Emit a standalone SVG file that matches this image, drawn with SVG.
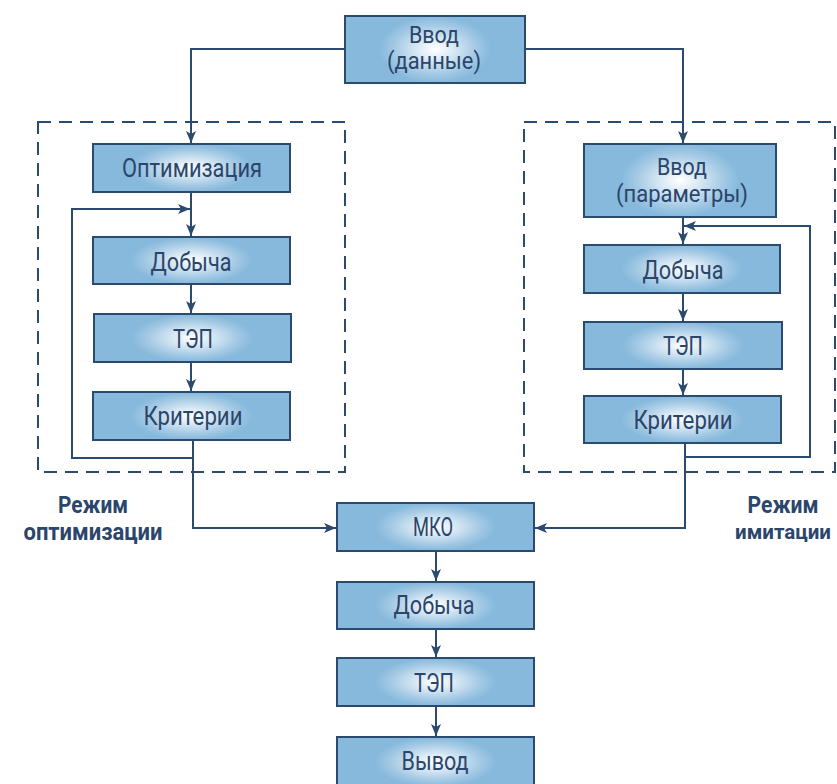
<svg xmlns="http://www.w3.org/2000/svg" width="837" height="784" viewBox="0 0 837 784">
<defs>
<radialGradient id="g" cx="0.5" cy="0.5" r="0.5" gradientUnits="objectBoundingBox" gradientTransform="translate(0.5 0.5) scale(0.62 1) translate(-0.5 -0.5)">
<stop offset="0" stop-color="#ffffff"/>
<stop offset="0.35" stop-color="#d6e7f3"/>
<stop offset="0.75" stop-color="#a2c8e4"/>
<stop offset="1" stop-color="#86b9dc"/>
</radialGradient>
<marker id="ah" viewBox="0 0 12 10" refX="12" refY="5" markerWidth="12" markerHeight="10" markerUnits="userSpaceOnUse" orient="auto">
<path d="M0,0 L12,5 L0,10 L3,5 Z" fill="#2b4a6f"/>
</marker>
<style>
.box{fill:url(#g);stroke:#2b4a6f;stroke-width:2}
.t{font-family:"Roboto",sans-serif;font-size:25px;fill:#2b456b;text-anchor:middle}
.t2{font-family:"Roboto",sans-serif;font-size:23px;fill:#2b456b;text-anchor:middle}
.lbl{font-family:"Roboto",sans-serif;font-size:23px;font-weight:bold;fill:#2b456b;text-anchor:middle}
.c{fill:none;stroke:#2b4a6f;stroke-width:2}
.a{marker-end:url(#ah)}
.dash{fill:none;stroke:#2b4a6f;stroke-width:2;stroke-dasharray:13 8}
</style>
</defs>
<rect width="837" height="784" fill="#ffffff"/>
<g id="groups">
<rect id="opt-frame" class="dash" x="38" y="122" width="307" height="350"/>
<rect id="sim-frame" class="dash" x="524" y="122" width="311" height="350"/>
</g>
<g id="connectors">
<path class="c a" d="M345,49 H191 V143"/>
<path class="c a" d="M525,49 H683 V143"/>
<path class="c a" d="M191,192 V236"/>
<path class="c a" d="M191,284 V313"/>
<path class="c a" d="M191,362 V391"/>
<path class="c a" d="M193,440 V458 H72 V209 H190"/>
<path class="c a" d="M193,458 V528 H336"/>
<path class="c a" d="M683,217 V244"/>
<path class="c a" d="M683,293 V321"/>
<path class="c a" d="M683,369 V395"/>
<path class="c a" d="M685,443 V457 H810 V226 H684"/>
<path class="c a" d="M685,457 V528 H535"/>
<path class="c a" d="M436,551 V581"/>
<path class="c a" d="M436,629 V657"/>
<path class="c a" d="M436,706 V736"/>
</g>
<g id="n-input-data"><rect class="box" x="345" y="16" width="180" height="67"/><text class="t2" x="434" y="43" textLength="50" lengthAdjust="spacingAndGlyphs">Ввод</text><text class="t2" x="434" y="69" textLength="94" lengthAdjust="spacingAndGlyphs">(данные)</text></g>
<g id="n-opt"><rect class="box" x="93" y="144" width="197" height="48"/><text class="t" x="192" y="177" textLength="140" lengthAdjust="spacingAndGlyphs">Оптимизация</text></g>
<g id="n-opt-dob"><rect class="box" x="93" y="237" width="197" height="47"/><text class="t" x="191" y="271" textLength="81" lengthAdjust="spacingAndGlyphs">Добыча</text></g>
<g id="n-opt-tep"><rect class="box" x="94" y="314" width="197" height="48"/><text class="t" x="193" y="348" textLength="40" lengthAdjust="spacingAndGlyphs">ТЭП</text></g>
<g id="n-opt-krit"><rect class="box" x="93" y="392" width="197" height="48"/><text class="t" x="193" y="425" textLength="99" lengthAdjust="spacingAndGlyphs">Критерии</text></g>
<g id="n-input-params"><rect class="box" x="584" y="144" width="192" height="73"/><text class="t2" x="682" y="175" textLength="50" lengthAdjust="spacingAndGlyphs">Ввод</text><text class="t2" x="682" y="202" textLength="132" lengthAdjust="spacingAndGlyphs">(параметры)</text></g>
<g id="n-sim-dob"><rect class="box" x="584" y="245" width="196" height="48"/><text class="t" x="683" y="279" textLength="81" lengthAdjust="spacingAndGlyphs">Добыча</text></g>
<g id="n-sim-tep"><rect class="box" x="584" y="322" width="198" height="47"/><text class="t" x="683" y="355" textLength="40" lengthAdjust="spacingAndGlyphs">ТЭП</text></g>
<g id="n-sim-krit"><rect class="box" x="584" y="396" width="197" height="47"/><text class="t" x="683" y="429" textLength="99" lengthAdjust="spacingAndGlyphs">Критерии</text></g>
<g id="n-mko"><rect class="box" x="337" y="503" width="197" height="48"/><text class="t" x="433" y="536" textLength="40" lengthAdjust="spacingAndGlyphs">МКО</text></g>
<g id="n-dob"><rect class="box" x="337" y="582" width="197" height="47"/><text class="t" x="434" y="614" textLength="81" lengthAdjust="spacingAndGlyphs">Добыча</text></g>
<g id="n-tep"><rect class="box" x="337" y="658" width="197" height="48"/><text class="t" x="434" y="692" textLength="40" lengthAdjust="spacingAndGlyphs">ТЭП</text></g>
<g id="n-out"><rect class="box" x="337" y="737" width="197" height="50"/><text class="t" x="435" y="770" textLength="67" lengthAdjust="spacingAndGlyphs">Вывод</text></g>
<g id="labels">
<text class="lbl" x="93" y="513" textLength="70" lengthAdjust="spacingAndGlyphs">Режим</text>
<text class="lbl" x="93" y="540" textLength="139" lengthAdjust="spacingAndGlyphs">оптимизации</text>
<text class="lbl" x="783" y="513" textLength="71" lengthAdjust="spacingAndGlyphs">Режим</text>
<text class="lbl" x="783" y="539" style="font-size:21px" textLength="96" lengthAdjust="spacingAndGlyphs">имитации</text>
</g>
</svg>
